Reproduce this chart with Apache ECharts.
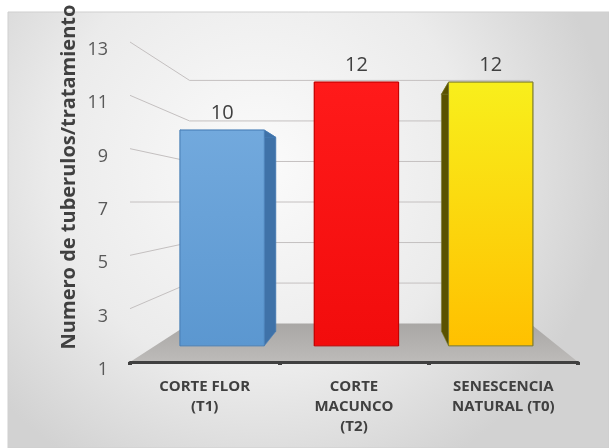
<!DOCTYPE html>
<html>
<head>
<meta charset="utf-8">
<script src="https://cdn.jsdelivr.net/npm/echarts@6/dist/echarts.min.js"></script>
<style>
  html, body { margin: 0; padding: 0; background: #fff; }
  #chart { width: 609px; height: 448px; }
</style>
</head>
<body>
<div id="chart"></div>
<script>
// datos
var categories = ['CORTE FLOR\n(T1)', 'CORTE\nMACUNCO\n(T2)', 'SENESCENCIA\nNATURAL (T0)'];
var values = [10, 12, 12];
var yTicks = [1, 3, 5, 7, 9, 11, 13];
var axisTitle = 'Numero de tuberulos/tratamiento';

// colores de las barras (frente, lado, borde)
var barStyles = [
    { top: '#72a9dd', bottom: '#5b97d0', side: '#3f72a8', edge: '#4a80b8' },
    { top: '#ff1a1a', bottom: '#f20c0c', side: '#a80000', edge: '#c00000' },
    { top: '#f8ef1c', bottom: '#ffc000', side: '#5a5200', edge: '#7a7a30' }
];

var yMin = yTicks[0], yMax = yTicks[yTicks.length - 1];
var D0 = 0.42, D1 = 0.8;   // profundidad de las barras

//proyeccion "3D" sencilla hacia un punto de fuga
function projector(cs) {
    var vx = cs.x + cs.width * 0.554, vy = cs.y + cs.height * 0.5;
    return function (x, y, d) {
        var k = 1 - 0.24 * d;
        return [vx + k * (x - vx), vy + k * (y - vy)];
    };
}

var chart = echarts.init(document.getElementById('chart'));

var option = {
    backgroundColor: '#ffffff',
    animation: false,
    graphic: [
        {
            type: 'rect', z: -10, silent: true,
            shape: { x: 8, y: 12, width: 601, height: 436 },
            style: {
                fill: new echarts.graphic.RadialGradient(0.42, 0.35, 0.8, [
                    { offset: 0, color: '#fbfbfb' },
                    { offset: 0.6, color: '#ebebeb' },
                    { offset: 1, color: '#d2d2d2' }
                ]),
                stroke: '#cfcfcf', lineWidth: 1
            }
        },
        {
            type: 'text', z: 10,
            x: 69, y: 177, rotation: Math.PI / 2,
            style: {
                text: axisTitle,
                fill: '#404040',
                font: 'bold 20px "Open Sans"',
                align: 'center', verticalAlign: 'middle'
            }
        }
    ],
    grid: { left: 130, right: 31, top: 42, bottom: 86 },
    xAxis: {
        type: 'category',
        data: categories,
        axisLine: { lineStyle: { color: '#404040', width: 3 } },
        axisTick: { show: true, length: 3, lineStyle: { color: '#404040', width: 4 } },
        axisLabel: {
            color: '#404040', fontFamily: 'Open Sans', fontWeight: 'bold',
            fontSize: 15, lineHeight: 20, margin: 15, interval: 0
        },
        z: 5
    },
    yAxis: {
        type: 'value',
        min: yMin, max: yMax, interval: 2,
        axisLine: { show: false },
        axisTick: { show: false },
        splitLine: { show: false },
        axisLabel: {
            color: '#595959', fontFamily: 'Open Sans', fontSize: 18,
            margin: 22, verticalAlign: 'top', lineHeight: 16
        }
    },
    series: [
        //lineas de cuadricula (pared lateral y fondo)
        {
            type: 'custom', z: 1, silent: true,
            data: yTicks.slice(1).map(function (v) { return [0, v]; }),
            renderItem: function (params, api) {
                var cs = params.coordSys, p = projector(cs);
                var y = api.coord([0, api.value(1)])[1];
                var a = p(cs.x, y, 1), b = p(cs.x + cs.width, y, 1);
                return {
                    type: 'polyline',
                    shape: { points: [[cs.x, y], a, b] },
                    style: { stroke: '#c4c0c0', lineWidth: 1, fill: null }
                };
            }
        },
        //piso
        {
            type: 'custom', z: 2, silent: true,
            data: [[0, yMin]],
            renderItem: function (params, api) {
                var cs = params.coordSys, p = projector(cs);
                var y = api.coord([0, yMin])[1];
                var l = cs.x, r = cs.x + cs.width;
                return {
                    type: 'polygon',
                    shape: { points: [[l, y], [r, y], p(r, y, 1), p(l, y, 1)] },
                    style: {
                        fill: new echarts.graphic.LinearGradient(0, 0, 0, 1, [
                            { offset: 0, color: '#a9a7a5' },
                            { offset: 1, color: '#bdbbb9' }
                        ])
                    }
                };
            }
        },
        //barras
        {
            type: 'custom', z: 3,
            data: values.map(function (v, i) { return [i, v]; }),
            renderItem: function (params, api) {
                var cs = params.coordSys, p = projector(cs);
                var i = api.value(0), v = api.value(1);
                var c = api.coord([i, v]), b = api.coord([i, yMin]);
                var half = api.size([1, 0])[0] * 0.314;
                var x0 = c[0] - half, x1 = c[0] + half, yt = c[1], yb = b[1];
                var F = [p(x0, yt, D0), p(x1, yt, D0), p(x1, yb, D0), p(x0, yb, D0)];
                var B = [p(x0, yt, D1), p(x1, yt, D1), p(x1, yb, D1), p(x0, yb, D1)];
                var s = barStyles[i];
                return {
                    type: 'group',
                    children: [
                        { type: 'polygon', shape: { points: [F[0], B[0], B[3], F[3]] },
                          style: { fill: s.side, stroke: s.edge, lineWidth: 0.6 } },
                        { type: 'polygon', shape: { points: [F[1], B[1], B[2], F[2]] },
                          style: { fill: s.side, stroke: s.edge, lineWidth: 0.6 } },
                        { type: 'polygon', shape: { points: [F[0], F[1], B[1], B[0]] },
                          style: { fill: s.side, stroke: s.edge, lineWidth: 0.6 } },
                        { type: 'polygon', shape: { points: F },
                          style: {
                              fill: new echarts.graphic.LinearGradient(0, 0, 0, 1, [
                                  { offset: 0, color: s.top },
                                  { offset: 1, color: s.bottom }
                              ]),
                              stroke: s.edge, lineWidth: 1
                          } },
                        { type: 'text',
                          x: (F[0][0] + F[1][0]) / 2, y: F[0][1] - 7,
                          style: {
                              text: String(v), fill: '#404040',
                              font: '20px "Open Sans"',
                              align: 'center', verticalAlign: 'bottom'
                          } }
                    ]
                };
            }
        }
    ]
};

chart.setOption(option);
window.addEventListener('resize', function () { chart.resize(); });
</script>
</body>
</html>
